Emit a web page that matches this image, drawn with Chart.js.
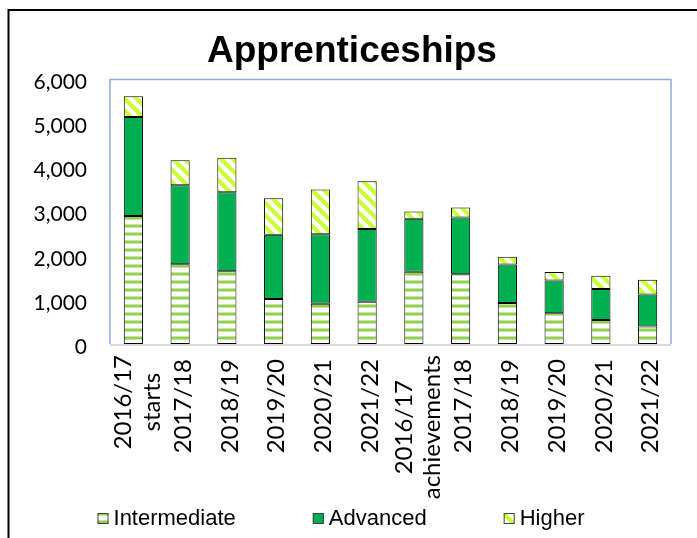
<!DOCTYPE html>
<html><head><meta charset="utf-8">
<script src="https://cdn.jsdelivr.net/npm/chart.js@4.4.1/dist/chart.umd.min.js"></script>
<style>html,body{margin:0;padding:0;background:#fff;overflow:hidden}#wrap{width:697px;height:538px;position:relative}canvas{display:block}</style>
</head><body><div id="wrap"><canvas id="c" width="697" height="538"></canvas></div>
<script>
const categories = [['2016/17','starts'],'2017/18','2018/19','2019/20','2020/21','2021/22',['2016/17','achievements'],'2017/18','2018/19','2019/20','2020/21','2021/22'];
const intermediate = [2900,1810,1650,1020,910,960,1640,1580,930,700,545,395];
const advanced = [2250,1790,1790,1455,1580,1650,1200,1290,870,740,700,730];
const higher = [470,565,785,830,1015,1080,165,225,180,195,300,330];
const seriesNames = ['Intermediate','Advanced','Higher'];
const yMax = 6000;
const yStep = 1000;

const canvas = document.getElementById('c');
const mainCtx = canvas.getContext('2d');
const xFont = {family:'Lato, "Open Sans", sans-serif', size:24, lineHeight:1.2};

function horizPattern(){
  const c=document.createElement('canvas'); c.width=8; c.height=8; const g=c.getContext('2d');
  g.fillStyle='#fff'; g.fillRect(0,0,8,8);
  g.fillStyle='#c6e5a0'; g.fillRect(0,0,8,1); g.fillRect(0,3,8,1);
  g.fillStyle='#92D050'; g.fillRect(0,1,8,2);
  return mainCtx.createPattern(c,'repeat');
}
function diagPattern(){
  const n=12;
  const c=document.createElement('canvas'); c.width=n; c.height=n; const g=c.getContext('2d');
  g.fillStyle='#fff'; g.fillRect(0,0,n,n);
  for(let x=0;x<n;x++){for(let y=0;y<n;y++){
    const d=(((x-y)%n)+n)%n;
    if(d<5){g.fillStyle='#CCFF33'; g.fillRect(x,y,1,1);}
    else if(d===5||d===n-1){g.fillStyle='#e8ff9e'; g.fillRect(x,y,1,1);}
  }}
  return mainCtx.createPattern(c,'repeat');
}
const fills = [horizPattern(), '#00B050', diagPattern()];

const framePlugin = {
  id:'frame',
  beforeDraw(chart){
    // centre two-line category labels as a block around their tick, lines centred on each other
    const xs = chart.scales.x;
    const items = xs.getLabelItems();
    const ctx = chart.ctx;
    ctx.save();
    ctx.font = xFont.size + 'px ' + xFont.family;
    items.forEach(it=>{
      if(Array.isArray(it.label) && !it._shifted){
        const maxW = Math.max(...it.label.map(l=>ctx.measureText(l).width));
        it.options.translation[0] -= 13;
        it.options.translation[1] += maxW/2 - 4;
        it.options.textAlign = 'center';
        it._shifted = true;
      }
    });
    ctx.restore();
  },
  beforeDatasetsDraw(chart){
    const {ctx, chartArea:{left,right,top,bottom}} = chart;
    ctx.save();
    ctx.strokeStyle='#8FAADC'; ctx.lineWidth=1.5;
    ctx.beginPath(); ctx.moveTo(left,bottom); ctx.lineTo(left,top); ctx.lineTo(right,top); ctx.lineTo(right,bottom); ctx.stroke();
    ctx.strokeStyle='#D9D9D9'; ctx.lineWidth=2;
    ctx.beginPath(); ctx.moveTo(left,bottom+1); ctx.lineTo(right,bottom+1); ctx.stroke();
    ctx.restore();
  },
  afterDraw(chart){
    const ctx = chart.ctx;
    ctx.save();
    ctx.strokeStyle='#000'; ctx.lineWidth=2;
    ctx.beginPath(); ctx.moveTo(8.5,chart.height); ctx.lineTo(8.5,10); ctx.lineTo(chart.width,10); ctx.stroke();
    // legend
    ctx.font='22px "Liberation Sans", Arial, sans-serif';
    const box=11, gap=5, spacing=77;
    const widths = seriesNames.map(t=>box+gap+ctx.measureText(t).width);
    const total = widths.reduce((a,b)=>a+b,0)+spacing*(seriesNames.length-1);
    let x = 341 - total/2;
    const boxTop = 513, base = 525;
    seriesNames.forEach((t,i)=>{
      ctx.fillStyle = fills[i];
      ctx.fillRect(x,boxTop,box,box);
      ctx.strokeStyle='#404040'; ctx.lineWidth=1;
      ctx.strokeRect(x+0.5,boxTop+0.5,box-1,box-1);
      ctx.fillStyle='#000'; ctx.textBaseline='alphabetic'; ctx.textAlign='left';
      ctx.fillText(t,x+box+gap,base);
      x += widths[i]+spacing;
    });
    ctx.restore();
  }
};

const seriesData = [intermediate, advanced, higher];
new Chart(canvas, {
  type:'bar',
  data:{
    labels: categories,
    datasets: seriesNames.map((n,i)=>({
      label:n, data:seriesData[i], backgroundColor:fills[i], borderColor:'#000', borderWidth:1, borderSkipped:false,
      barPercentage:0.41, categoryPercentage:1
    }))
  },
  options:{
    responsive:false, animation:false, devicePixelRatio:1,
    layout:{padding:{left:8,right:1,top:0,bottom:0}},
    plugins:{
      legend:{display:false},
      tooltip:{enabled:false},
      title:{display:true, text:'Apprenticeships', color:'#000',
        font:{family:'"Liberation Sans", Arial, sans-serif', size:37, weight:'bold'},
        padding:{top:30,bottom:5}}
    },
    scales:{
      x:{stacked:true, grid:{display:false, drawTicks:false}, border:{display:false},
        ticks:{autoSkip:false, minRotation:90, maxRotation:90, color:'#000', padding:15,
          font:xFont, labelOffset:3},
        afterFit(s){s.height=194;}},
      y:{stacked:true, min:0, max:yMax, grid:{display:false, drawTicks:false}, border:{display:false},
        ticks:{stepSize:yStep, color:'#000', padding:23, labelOffset:3,
          font:{family:'Lato, "Open Sans", sans-serif', size:21},
          callback:(v)=>Number(v).toLocaleString('en-US')},
        afterFit(s){s.width=102;}},
      yR:{position:'right', display:true, grid:{display:false, drawTicks:false}, border:{display:false},
        ticks:{display:false}, afterFit(s){s.width=25;}}
    }
  },
  plugins:[framePlugin]
});
</script></body></html>
